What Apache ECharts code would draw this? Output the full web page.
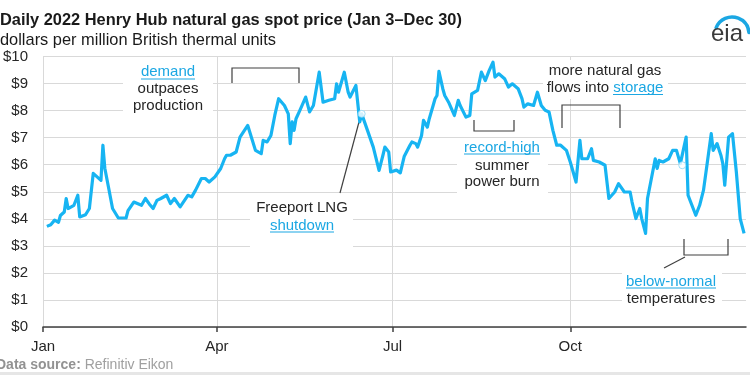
<!DOCTYPE html>
<html>
<head>
<meta charset="utf-8">
<script src="https://cdn.jsdelivr.net/npm/echarts@6.0.0/dist/echarts.min.js"></script>
<style>
  html, body { margin: 0; padding: 0; background: #fff; }
  #chart { width: 750px; height: 375px; }
</style>
</head>
<body>
<div id="chart"></div>
<script>
// Henry Hub daily spot price 2022
// day = days since Jan 1 2022
const days = [
    2, 4, 6, 8, 9, 11, 12, 13, 16, 18, 19, 22, 24, 25, 26, 28, 30, 31, 32, 34, 36, 39, 43, 44, 47, 51, 53, 55, 57, 59,
    61, 64, 66, 68, 71, 75, 77, 79, 82, 84, 86, 89, 92, 94, 95, 97, 100, 102, 106, 107, 110, 113, 114, 116, 118, 120,
    122, 125, 127, 128, 129, 130, 131, 133, 136, 138, 140, 143, 145, 148, 151, 152, 153, 156, 158, 159, 162, 164, 165,
    168, 171, 174, 176, 177, 179, 180,
    183, 185, 187, 190, 191, 193, 194, 196, 197, 199, 200, 202, 203, 204, 205, 207, 208, 210, 211, 213, 215, 216, 219,
    221, 222, 225, 227, 229, 231, 233, 234, 236, 239, 241,
    243, 246, 248, 249, 251, 254, 256, 258, 260, 262, 264, 266, 268, 271, 273, 276, 278, 279, 282, 284, 285, 288, 291,
    293, 296, 298, 301,
    304, 305, 306, 307, 309, 310, 312, 313, 314, 317, 318, 319, 321, 324, 326, 328, 330, 331, 333, 334, 336, 338, 340,
    342, 344, 346, 347, 349, 351, 352, 353, 355, 357, 359, 361, 363
];
const prices = [
    3.72, 3.78, 3.95, 3.87, 4.12, 4.25, 4.75, 4.38, 4.5, 4.87, 4.07, 4.15, 4.38, 4.45, 5.68, 5.55, 5.42, 6.72, 5.87, 5.13,
    4.38, 4.03, 4.03, 4.3, 4.62, 4.5, 4.75, 4.55, 4.38, 4.68,
    4.75, 4.87, 4.56, 4.75, 4.44, 4.87, 4.81, 5.06, 5.49, 5.49, 5.36, 5.55, 5.86, 6.22, 6.35, 6.35, 6.47, 7.02, 7.45, 7.39,
    6.53, 6.41, 6.9, 6.84, 7.08, 7.82,
    8.44, 8.19, 7.88, 6.78, 7.58, 7.27, 7.7, 8.01, 8.5, 7.95, 8.19, 9.42, 8.31, 8.38, 8.44, 8.99, 8.68, 9.42, 8.68, 8.5,
    8.93, 7.58, 7.88, 7.27, 6.65, 5.79, 6.35, 6.65, 6.47, 5.73,
    5.8, 5.7, 6.3, 6.72, 6.84, 6.78, 6.65, 7.08, 7.64, 7.39, 7.7, 8.19, 8.44, 8.56, 9.45, 8.81, 8.56, 8.31, 8.25, 7.82,
    8.38, 8.19, 7.76, 7.82, 8.62, 8.75, 9.42, 9.11, 9.48, 9.79, 9.24, 9.36, 9.18, 8.87,
    8.99, 8.81, 8.44, 8.13, 8.25, 8.19, 8.68, 8.19, 8.01, 7.95, 7.27, 6.72, 6.72, 6.53, 6.1, 5.36, 6.9, 6.22, 6.22, 6.59,
    6.16, 6.1, 5.98, 4.75, 4.99, 5.3, 4.99,
    4.99, 4.62, 4.62, 4.01, 4.38, 4.01, 3.46, 4.75, 4.81, 6.22, 5.86, 6.16, 6.1, 6.22, 6.53, 6.53, 6.04, 5.98, 7.02, 4.87,
    4.5, 4.13, 4.5, 5.06, 6.1, 7.15, 6.53, 6.78, 6.35, 6.04, 5.24, 7.02, 7.15, 5.73, 4.01, 3.46
];

// hollow markers left on the line (Freeport, late Nov)
const markerDays = [165, 331];
const markerPrices = [7.88, 5.98];

const monthDays = [0, 90, 181, 273];
const monthLabels = ['Jan', 'Apr', 'Jul', 'Oct'];

const FONT = "'Liberation Sans', Arial, sans-serif";
const TEXT = '#262626';
const BLUE = '#1ba7e3';
const LINE = '#17b4f2';
const GRID = '#d9d9d9';
const INK = '#404040';

const chart = echarts.init(document.getElementById('chart'), null, { renderer: 'canvas' });

function txt(x, y, text, color, extra) {
    return Object.assign({
        type: 'text',
        z: 1,
        z2: 10,
        style: {
            x: x, y: y, text: text,
            fill: color || TEXT,
            font: '15px ' + FONT,
            align: 'center',
            verticalAlign: 'middle'
        }
    }, extra || {});
}

function poly(points, width, color) {
    return {
        type: 'polyline',
        z: 1,
        z2: 10,
        shape: { points: points },
        style: { stroke: color || INK, lineWidth: width || 1.2, fill: null }
    };
}

function whiteBox(x1, y1, x2, y2) {
    return {
        type: 'rect',
        z: 1,
        z2: 1,
        shape: { x: x1, y: y1, width: x2 - x1, height: y2 - y1 },
        style: { fill: '#fff' }
    };
}

const graphics = [
    // title block
    {
        type: 'text', left: 0, top: 12,
        style: { text: 'Daily 2022 Henry Hub natural gas spot price (Jan 3\u2013Dec 30)', fill: '#1a1a1a', font: 'bold 16.4px ' + FONT }
    },
    {
        type: 'text', left: 0, top: 32,
        style: { text: 'dollars per million British thermal units', fill: '#1a1a1a', font: '16.4px ' + FONT }
    },
    // eia logo
    {
        type: 'arc',
        shape: { cx: 732, cy: 34, r: 17, startAngle: Math.PI * 1.12, endAngle: Math.PI * 1.97 },
        style: { stroke: BLUE, lineWidth: 3.5, fill: null, lineCap: 'round' }
    },
    {
        type: 'text',
        style: { x: 711, y: 34, text: 'eia', fill: '#3a3a3a', font: '24px ' + FONT, verticalAlign: 'middle' }
    },
    // source
    {
        type: 'text',
        style: {
            x: -4, y: 365, text: '{b|Data source:} Refinitiv Eikon',
            verticalAlign: 'middle',
            fill: '#a0a0a0', font: '14px ' + FONT,
            rich: { b: { fill: '#929292', font: 'bold 14px ' + FONT } }
        }
    },
    {
        type: 'rect',
        shape: { x: 0, y: 372, width: 750, height: 3 },
        style: { fill: '#e6e6e6' }
    },

    // demand outpaces production
    whiteBox(123, 62, 213, 116),
    txt(168, 72, 'demand', BLUE),
    poly([[141, 79], [195, 79]], 1, BLUE),
    txt(168, 89, 'outpaces'),
    txt(168, 106, 'production'),
    poly([[232, 83], [232, 68], [299, 68], [299, 83]]),

    // Freeport LNG shutdown
    whiteBox(250, 198, 353, 250),
    txt(302, 208, 'Freeport LNG'),
    txt(302, 225.5, 'shutdown', BLUE),
    poly([[270, 232], [334, 232]], 1, BLUE),
    poly([[340, 193], [359, 122]]),

    // record-high summer power burn
    whiteBox(457, 139, 548, 193),
    poly([[474, 120], [474, 131], [514, 131], [514, 120]]),
    txt(502, 147.5, 'record-high', BLUE),
    poly([[464, 154], [540, 154]], 1, BLUE),
    txt(502, 165.5, 'summer'),
    txt(502, 181.5, 'power burn'),

    // more natural gas flows into storage
    whiteBox(543, 60, 668, 99),
    txt(605, 71, 'more natural gas'),
    {
        type: 'text', z: 1, z2: 10,
        style: {
            x: 605, y: 88, text: '{n|flows into }{s|storage}',
            align: 'center', verticalAlign: 'middle', font: '15px ' + FONT, fill: TEXT,
            rich: { n: { fill: TEXT, font: '15px ' + FONT }, s: { fill: BLUE, font: '15px ' + FONT } }
        }
    },
    poly([[613, 94.5], [663, 94.5]], 1, BLUE),
    poly([[562, 128], [562, 105], [620, 105], [620, 128]]),

    // below-normal temperatures
    whiteBox(622, 268, 722, 311),
    poly([[684, 239], [684, 255], [728, 255], [728, 239]]),
    poly([[685, 257], [664, 268]]),
    txt(671, 281.5, 'below-normal', BLUE),
    poly([[626, 288], [716, 288]], 1, BLUE),
    txt(671, 299, 'temperatures')
];

const option = {
    animation: false,
    backgroundColor: '#fff',
    textStyle: { fontFamily: FONT },
    grid: { left: 42, right: 4, top: 56.5, bottom: 48 },
    xAxis: {
        type: 'value',
        min: 0,
        max: 364,
        axisLine: { show: true, lineStyle: { color: INK, width: 1.5 } },
        axisTick: { show: true, length: 5, customValues: monthDays, lineStyle: { color: INK, width: 1.5 } },
        axisLabel: {
            customValues: monthDays,
            margin: 12,
            color: TEXT,
            fontSize: 15,
            fontFamily: FONT,
            formatter: (v) => monthLabels[monthDays.indexOf(v)] || ''
        },
        splitLine: { show: true, lineStyle: { color: GRID, width: 1 } }
    },
    yAxis: {
        type: 'value',
        min: 0,
        max: 10,
        interval: 1,
        axisLine: { show: false },
        axisTick: { show: false },
        axisLabel: {
            margin: 15,
            color: TEXT,
            fontSize: 15,
            fontFamily: FONT,
            formatter: (v) => '$' + v
        },
        splitLine: { lineStyle: { color: GRID, width: 1 } }
    },
    series: [
        {
            name: 'Henry Hub',
            type: 'line',
            z: 2,
            showSymbol: false,
            symbol: 'none',
            data: days.map((d, i) => [d, prices[i]]),
            lineStyle: { color: LINE, width: 3.2, join: 'round' }
        },
        {
            type: 'scatter',
            z: 3,
            symbol: 'circle',
            symbolSize: 7,
            data: markerDays.map((d, i) => [d, markerPrices[i]]),
            itemStyle: { color: '#fff', borderColor: '#8ad6f5', borderWidth: 1 }
        }
    ],
    graphic: graphics
};

chart.setOption(option);
</script>
</body>
</html>
